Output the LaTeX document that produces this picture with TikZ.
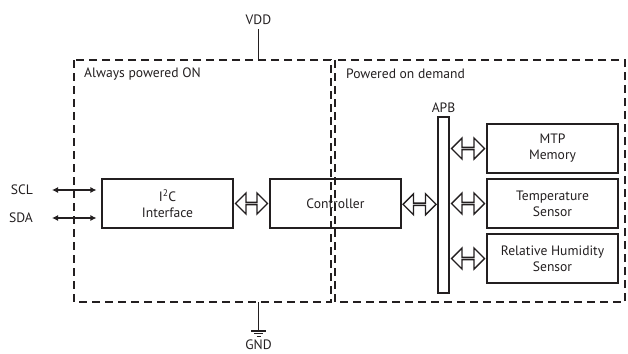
\documentclass[tikz,border=0pt]{standalone}
\usepackage{fontspec}
\setmainfont{PT Sans}
\usetikzlibrary{shapes.arrows,calc,arrows.meta}
\definecolor{ink}{HTML}{231F20}
\tikzset{
  block/.style={draw=ink, line width=1.1pt, minimum width=131pt, minimum height=49pt,
    align=center, inner sep=0pt, text=ink},
  pwrdomain/.style={draw=ink, line width=1.1pt, dash pattern=on 8pt off 5pt},
  fatarrow/.style={double arrow, draw=ink, line width=1.4pt, minimum width=21pt,
    double arrow head extend=6pt, inner sep=0pt},
  sig/.style={ink, line width=1.1pt, {Latex[length=6pt,width=6pt]}-{Latex[length=6pt,width=6pt]}},
  lbl/.style={text=ink, inner sep=0pt}
}
\begin{document}
\begin{tikzpicture}[x=1pt,y=-1pt,font=\fontsize{13.6}{16}\selectfont]
\useasboundingbox (0,0) rectangle (628,353);
% power domains
\draw[pwrdomain] (74,60) rectangle (331,302);
\draw[pwrdomain] (335,60) rectangle (625,302);
\node[lbl,anchor=west] (alwayson) at (84,74) {Always powered ON};
\node[lbl,anchor=west] (ondemand) at (346,74) {Powered on demand};
% supply and ground
\node[lbl] (vdd) at (258.5,20) {VDD};
\coordinate (vddin) at (258.5,60);
\draw[ink,line width=1.1pt] ([yshift=-4pt]vdd.south) -- (vddin);
\node[lbl] (gnd) at (258.5,345) {GND};
\coordinate (gndout) at (258.5,302);
\coordinate (gndsym) at (258.5,331);
\draw[ink,line width=1.1pt] (gndout) -- (gndsym);
\draw[ink,line width=1.1pt] ($(gndsym)+(-7.5,0)$) -- ++(15,0)
  ($(gndsym)+(-4.5,2.7)$) -- ++(9,0)
  ($(gndsym)+(-2,5.2)$) -- ++(4,0);
% blocks
\node[block] (i2c) at (167.5,203.5) {I\textsuperscript{2}C\\Interface};
\node[block] (ctrl) at (335.5,203.5) {Controller};
\node[draw=ink,line width=1.1pt,minimum width=11pt,minimum height=176pt,inner sep=0pt]
  (apb) at (443.5,205) {};
\node[lbl,anchor=south] (apblbl) at ([yshift=4pt]apb.north) {APB};
\foreach \y/\name/\txt in {148.5/mtp/{MTP\\Memory},203.5/temp/{Temperature\\Sensor},
  258.5/rh/{Relative Humidity\\Sensor}}
  \node[block] (\name) at (552.5,\y) {\txt};
% bus connections
\node[fatarrow,minimum height=32pt] (i2cctrl) at ($(i2c.east)!.5!(ctrl.west)$) {};
\node[fatarrow,minimum height=33pt] (ctrlapb) at ($(ctrl.east)!.5!(apb.west)$) {};
\foreach \name in {mtp,temp,rh}
  \node[fatarrow,minimum height=33pt] (apb\name) at ($(apb.east |- \name.west)!.5!(\name.west)$) {};
% serial lines
\node[lbl,anchor=east] (scl) at (33,190) {SCL};
\node[lbl,anchor=east] (sda) at (33,218) {SDA};
\draw[sig,shorten >=5pt] ([xshift=19pt]scl.east) -- (scl.east -| i2c.west);
\draw[sig,shorten >=5pt] ([xshift=19pt]sda.east) -- (sda.east -| i2c.west);
\end{tikzpicture}
\end{document}
